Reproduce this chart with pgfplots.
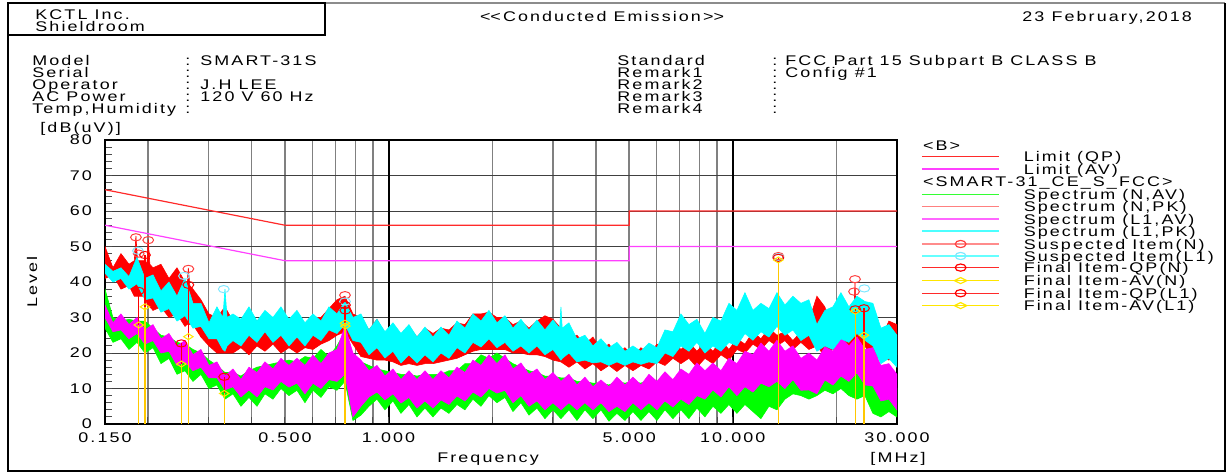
\documentclass[border=0pt]{standalone}
\usepackage{fontspec}
\setmainfont{Liberation Sans}[FakeStretch=1.28, LetterSpace=15]
\usepackage{pgfplots}
\pgfplotsset{compat=1.18}
\usepackage{pgfplotstable}
\usepgfplotslibrary{fillbetween}
\definecolor{specG}{HTML}{00FF00}
\definecolor{specR}{HTML}{FF0000}
\definecolor{specM}{HTML}{FF00FF}
\definecolor{specC}{HTML}{00FFFF}
\definecolor{limQP}{HTML}{FF2A2A}
\definecolor{limAV}{HTML}{FF40FF}
\definecolor{stemY}{HTML}{FFC800}
\definecolor{markY}{HTML}{FFE600}
\definecolor{suspN}{HTML}{FF4040}
\definecolor{suspL}{HTML}{80E8FF}
\newcommand\tf{\fontsize{7}{8.4}\selectfont}

\pgfplotstableread{
f hi lo
0.1500 38 27
0.1582 30 23
0.1669 29 24
0.1761 29.5 21
0.1858 29 23
0.1960 29 20
0.2068 27 21.5
0.2181 25 17
0.2301 24.5 18.5
0.2428 23 14
0.2561 22.5 15
0.2702 21 12
0.2850 20 14
0.3007 18 10
0.3172 16.5 11
0.3347 14.5 7
0.3531 14.5 8.5
0.3725 13.5 5
0.3930 15 7.5
0.4146 16 5
0.4373 16.5 8.5
0.4614 17 7
0.4867 17.5 10
0.5135 18 8
0.5417 17.5 9.5
0.5715 19 6
0.6029 18.5 9.5
0.6361 21 7.5
0.6710 19 10.5
0.7079 22 9.5
0.7468 26 12
0.7879 19 1
0.8312 17.5 2.5
0.8769 16.5 5
0.9251 15.5 7
0.9760 15 4
1.0296 14.5 6.5
1.0862 14 3
1.1459 14 5.5
1.2089 13.5 2
1.2754 14 4.5
1.3455 14 2
1.4194 14 4.5
1.4975 15 3
1.5798 15 5.5
1.6666 17 4
1.7582 17 7
1.8549 19.5 5
1.9569 18.5 8
2.0644 20 6
2.1779 18.5 7.5
2.2976 17 3.5
2.4239 16 6
2.5571 15 2.5
2.6977 14.5 4.5
2.8460 13.5 1.5
3.0024 13.5 4
3.1675 13 1.5
3.3416 13 4
3.5253 12 1
3.7191 12 4
3.9235 11.5 1.5
4.1392 11.5 4
4.3667 11 0.8
4.6067 12 3
4.8600 11.5 1
5.1271 12 3.5
5.4090 11.5 1
5.7063 12.5 3.5
6.0200 12 1
6.3509 13 4
6.7000 12.5 1.5
7.0683 13.5 4
7.4568 13 1.5
7.8667 14 4.5
8.2991 13.5 2
8.7553 14 5
9.2366 13.5 3
9.7443 15 5.5
10.280 14 3
10.845 15 5.5
11.441 14 3.5
12.070 15.5 1.5
12.734 15 5
13.434 17 4
14.172 16.5 7
14.951 17 8.5
15.773 16 8
16.640 15 7
17.554 15.5 8
18.519 16 9.5
19.537 17 8.5
20.611 18 10
21.744 18.5 8
22.939 17 7
24.200 17 8
25.530 13 3
26.933 12 2
28.413 10 3.5
29.975 10 2
}\greentab

\pgfplotstableread{
f hi lo
0.1500 50 41
0.1582 44 42
0.1669 48 38
0.1761 45 39
0.1825 46 36
0.1845 53 36
0.1865 46 36
0.1960 46 36
0.1985 45 34
0.2003 52 33
0.2025 45 33
0.2068 44 32
0.2181 45 33
0.2301 41 30
0.2428 44 31
0.2561 40 27.5
0.2595 39 28
0.2620 44 28
0.2645 39 28
0.2702 38 28
0.2850 35 24.5
0.3007 31 22
0.3172 30 20
0.3347 33 20
0.3531 29 20
0.3725 29 21.5
0.3930 31 19.5
0.4146 29 22
0.4373 31 20.5
0.4614 29.5 22.5
0.4867 32 20
0.5135 29 21.5
0.5417 31 20
0.5715 28 21.5
0.6029 30 21
0.6361 30 22.5
0.6710 32.5 23.5
0.7079 35 25
0.7468 36 26
0.7879 31 22.5
0.8312 30 19
0.8769 26.5 18.5
0.9251 29.5 18
0.9760 25.5 18
1.0296 28 17.5
1.0862 25 16.5
1.1459 27.5 17
1.2089 24.5 16.5
1.2754 27 17
1.3455 25.5 17
1.4194 27 17.5
1.4975 26.5 18
1.5798 28.5 18.5
1.6666 28 19.5
1.7582 31 20.5
1.8549 31 21
1.9569 31.5 21
2.0644 30 21
2.1779 30 21
2.2976 28 20
2.4239 29 20
2.5571 27 19.5
2.6977 29 19.5
2.8460 30.5 19
3.0024 29.5 18
3.1675 27 17.5
3.3416 24.5 16
3.5253 25 17.5
3.7191 22.5 15.5
3.9235 24.5 17
4.1392 21 15
4.3667 22.5 16.5
4.6067 19.5 14.8
4.8600 21.5 16.5
5.1271 19 15
5.4090 21.5 16.5
5.7063 19.5 15.5
6.0200 22.5 17.5
6.3509 20.5 16.5
6.7000 23.5 18.5
7.0683 21 17
7.4568 23 18.5
7.8667 20.5 16
8.2991 22.8 18.5
8.7553 20.5 17
9.2366 23.5 19.5
9.7443 21 18
10.280 24 21
10.845 22.5 20
11.441 26 22.5
12.070 24 21
12.734 27 23.5
13.434 25 22
14.172 26 23.5
14.951 23.5 21
15.773 26 23
16.640 29 21
17.554 36 22
18.519 33 19
19.537 25 21
20.611 24 20
21.744 26 22
22.450 30 21
22.650 40 21
22.800 31 21
22.939 33 21
24.200 26.5 22
25.530 22.5 18
26.933 24 19
28.413 29 18
29.975 28 19.5
}\redtab

\pgfplotstableread{
f hi lo
0.1500 33.5 30
0.1582 28.5 26
0.1669 31 26.5
0.1761 28 24
0.1858 30 25.5
0.1960 26.5 22.5
0.2068 28 23.5
0.2181 24 20
0.2301 25.5 20.5
0.2428 22 16.5
0.2561 23.5 17.5
0.2702 19.5 15
0.2850 21 16
0.3007 16.5 13
0.3172 17.5 13
0.3347 13.5 9.6
0.3531 15.5 10.5
0.3725 12.5 7.6
0.3930 16 9.6
0.4146 14.5 7.6
0.4373 17.5 10.5
0.4614 15.5 9.6
0.4867 18.5 12
0.5135 16.5 10.4
0.5417 18.5 11.5
0.5715 16.5 8.5
0.6029 19.4 11.5
0.6361 17 10
0.6710 20 12.5
0.7079 21 12
0.7468 27.5 14
0.7879 20 2
0.8312 18 5
0.8769 15 7.6
0.9251 16.5 9
0.9760 13.5 6.8
1.0296 15.5 8.5
1.0862 12.5 5.9
1.1459 15 7.5
1.2089 12.5 4.5
1.2754 15 6.5
1.3455 12.5 4.5
1.4194 15 6.8
1.4975 13 5.5
1.5798 16 7.9
1.6666 14.5 6.5
1.7582 18 9
1.8549 16.5 7.6
1.9569 19.5 10
2.0644 17 8.7
2.1779 19.5 9.5
2.2976 15.5 6
2.4239 17.2 8
2.5571 14 5
2.6977 15.5 6.5
2.8460 12.5 4
3.0024 14.5 6
3.1675 12 4
3.3416 14 6
3.5253 11 4
3.7191 13.2 6
3.9235 10.5 4
4.1392 12.4 6
4.3667 10.5 3.5
4.6067 13.2 5
4.8600 11 3.5
5.1271 13.2 6
5.4090 11 4
5.7063 14 6
6.0200 12 4
6.3509 14.7 6.5
6.7000 12.5 4.8
7.0683 15.5 7
7.4568 14 5.5
7.8667 17.2 8
8.2991 15 7
8.7553 17.2 9.6
9.2366 15 7.6
9.7443 18.5 10.5
10.280 17 8
10.845 20.5 10.5
11.441 19.5 9
12.070 22.8 11.5
12.734 20.5 10.5
13.434 23.6 12
14.172 20.5 10
14.951 22 12.5
15.773 18.5 9.5
16.640 20 9.6
17.554 18 8.5
18.519 21.7 12.4
19.537 20.5 11
20.611 24.5 13.5
21.744 22 12
22.939 24.5 14.4
24.200 21 11
25.530 21.5 10.7
26.933 16.5 6.5
28.413 17 7
29.975 14 4
}\magtab

\pgfplotstableread{
f hi lo
0.1500 45 42.5
0.1582 43 40
0.1669 44 41
0.1761 41.5 38
0.1858 47 39.5
0.1960 41 35
0.2068 42 35.5
0.2181 37.5 31.5
0.2301 40 32.5
0.2428 36 29
0.2561 41 30.5
0.2702 34 27
0.2850 34 27.5
0.3007 28.5 24
0.3172 33 24
0.3300 30 21
0.3347 38 20.5
0.3395 30 22
0.3531 31 23.5
0.3725 29.5 22
0.3930 33 25
0.4146 29 23
0.4373 32 26
0.4614 30 23
0.4867 33 25
0.5135 29.5 22
0.5417 32 24.5
0.5715 28.5 22
0.6029 31 25
0.6361 29 23.5
0.6710 33 26.5
0.7079 31 25.5
0.7468 34.5 28
0.7879 30 23.5
0.8312 31 23
0.8769 26.5 19.5
0.9251 29.5 21.5
0.9760 26 18.6
1.0296 28.5 20.5
1.0862 25.5 17.2
1.1459 28 19.5
1.2089 24.5 17.2
1.2754 27.3 19.5
1.3455 24.5 17.5
1.4194 27.3 20
1.4975 25 18.5
1.5798 29 21.5
1.6666 27 20
1.7582 31 23
1.8549 29 21.7
1.9569 32 24
2.0644 28.5 21.5
2.1779 30.5 23
2.2976 27 20.5
2.4239 29.5 22
2.5571 26.5 20
2.6977 29.3 22
2.8460 26.5 19.5
3.0024 29.3 21
3.1400 27 18.5
3.1675 33 18
3.1950 27 18.5
3.3416 28.5 20
3.5253 24 17.5
3.7191 25 18
3.9235 22 17.2
4.1392 24 17.5
4.3667 21.5 16.5
4.6067 23 17.5
4.8600 20.5 16.5
5.1271 22 17.5
5.4090 20.5 16.8
5.7063 22.8 17.5
6.0200 21.5 17
6.3509 26.5 20
6.7000 26 19
7.0683 31 22
7.4568 28 20.5
7.8667 29.5 23
8.2991 25.5 20
8.7553 30 22
9.2366 29 20.5
9.7443 34 23
10.280 32 22
10.845 37 25.5
11.441 32 23.6
12.070 34 26
12.734 32.5 24.5
13.434 37 27.5
14.172 33.5 25
14.951 36 26.5
15.773 34 23.5
16.640 35 25
17.554 28 20.5
18.519 32 22
19.537 33 21
20.611 37 24
21.744 33 23
22.939 36 25.5
24.200 34.5 23.6
25.530 34 22
26.933 27 17
28.413 28 18.5
29.975 25 16
}\cyantab

\begin{document}
\begin{tikzpicture}[x=1pt,y=1pt]
\begin{axis}[
  at={(52.5pt,24.5pt)}, anchor=south west,
  scale only axis, width=396pt, height=142pt,
  xmode=log, xmin=0.15, xmax=30, ymin=0, ymax=80,
  xtick={0.15,0.5,1,5,10,30},
  xticklabels={0.150,0.500,1.000,5.000,10.000,30.000},
  minor xtick={0.2,0.3,0.4,0.5,0.6,0.7,0.8,0.9,2,3,4,5,6,7,8,9,20},
  xminorgrids=true, xmajorgrids=false,
  extra x ticks={1,10}, extra x tick labels={},
  extra x tick style={grid=major, major grid style={black, line width=1pt}},
  ytick={0,10,...,80}, ymajorgrids=true,
  minor y tick num=4, ytick pos=left, xtick pos=bottom,
  tick align=inside, major tick length=3.5pt, minor tick length=3.5pt,
  every tick/.style={black!70, line width=0.5pt},
  major grid style={black!75, line width=0.5pt},
  minor grid style={black!50, line width=0.7pt},
  axis line style={black, line width=0.8pt},
  /pgf/number format/assume math mode=true,
  ticklabel style={font=\tf},
  yticklabel style={xshift=-3pt},
  xticklabel style={yshift=-1pt},
]
% Spectrum (N,AV)
\addplot[draw=none, name path=gh] table[x=f,y=hi]{\greentab};
\addplot[draw=none, name path=gl] table[x=f,y=lo]{\greentab};
\addplot[fill=specG, draw=specG, line width=0.3pt] fill between[of=gh and gl];
% Spectrum (N,PK)
\addplot[draw=none, name path=rh] table[x=f,y=hi]{\redtab};
\addplot[draw=none, name path=rl] table[x=f,y=lo]{\redtab};
\addplot[fill=specR, draw=specR, line width=0.3pt] fill between[of=rh and rl];
% Spectrum (L1,AV)
\addplot[draw=none, name path=mh] table[x=f,y=hi]{\magtab};
\addplot[draw=none, name path=ml] table[x=f,y=lo]{\magtab};
\addplot[fill=specM, draw=specM, line width=0.3pt] fill between[of=mh and ml];
% Spectrum (L1,PK)
\addplot[draw=none, name path=ch] table[x=f,y=hi]{\cyantab};
\addplot[draw=none, name path=cl] table[x=f,y=lo]{\cyantab};
\addplot[fill=specC, draw=specC, line width=0.3pt] fill between[of=ch and cl];
% Limits
\addplot[limQP, line width=0.6pt] coordinates {(0.15,66) (0.5,56) (5,56) (5,60) (30,60)};
\addplot[limAV, line width=0.6pt] coordinates {(0.15,56) (0.5,46) (5,46) (5,50) (30,50)};
% Final item stems
\addplot[ycomb, red, line width=0.6pt] coordinates {(0.188,37.5) (0.196,47.6) (0.250,22.7) (0.262,39.2) (0.333,13.3) (0.747,33.5) (0.749,32.0) (13.56,46.8) (22.7,32.3) (24.05,32.6)};
\addplot[ycomb, stemY, line width=0.7pt] coordinates {(0.188,27.9) (0.196,33.0) (0.250,16.9) (0.262,24.6) (0.333,8.6) (0.747,28.4) (0.749,27.6) (13.56,46.2) (22.7,31.8) (24.05,25.0)};
% Suspected items
\addplot[only marks, mark=o, suspN, mark size=1.8pt, mark options={xscale=1.5, line width=0.5pt}] coordinates {(0.1845,52.6) (0.2003,51.8) (0.188,48.0) (0.262,43.7) (0.747,36.3) (13.56,47.3) (22.65,40.8) (22.5,37.3)};
\addplot[only marks, mark=o, suspL, mark size=1.8pt, mark options={xscale=1.5, line width=0.5pt}] coordinates {(0.187,48.8) (0.2544,41.7) (0.332,38.0) (0.747,34.5) (13.56,47.0) (24.1,38.2)};
% Final QP / AV
\addplot[only marks, mark=o, red, mark size=1.8pt, mark options={xscale=1.5, line width=0.5pt}] coordinates {(0.188,37.5) (0.196,47.6) (0.250,22.7) (0.262,39.2) (0.333,13.3) (0.747,33.5) (0.749,32.0) (13.56,46.8) (22.7,32.3) (24.05,32.6)};
\addplot[only marks, mark=diamond, markY, mark size=1.5pt, mark options={xscale=2.1, line width=0.5pt}] coordinates {(0.188,27.9) (0.196,33.0) (0.250,16.9) (0.262,24.6) (0.333,8.6) (0.747,28.4) (0.749,27.6) (13.56,46.2) (22.7,31.8) (24.05,25.0)};
\end{axis}
% frame
\draw[black!45, line width=0.8pt] (4,235) -- (612.5,235);
\draw[black, line width=0.6pt] (4,235) -- (4,1) -- (612.5,1) -- (612.5,235);
\draw[black, line width=0.6pt] (4,219) rectangle (162.5,235);
% header (baselines = row centre - 2.5pt)
\begin{scope}[every node/.style={font=\tf, inner sep=0pt, anchor=base west}]
\node at (17.5,227) {KCTL Inc.};
\node at (17.5,221) {Shieldroom};
\node[anchor=base] at (301,226) {<\kern0pt<Conducted Emission>\kern0pt>};
\node at (511,226) {23 February,2018};
\node at (16,204) {Model};
\node at (16,198) {Serial};
\node at (16,192) {Operator};
\node at (16,186) {AC Power};
\node at (16,180) {Temp,Humidity};
\foreach \yy in {204,198,192,186,180} \node at (92.5,\yy) {:};
\node at (100,204) {SMART-31S};
\node at (100,192) {J.H LEE};
\node at (100,186) {120 V 60 Hz};
\node at (308.5,204) {Standard};
\node at (308.5,198) {Remark1};
\node at (308.5,192) {Remark2};
\node at (308.5,186) {Remark3};
\node at (308.5,180) {Remark4};
\foreach \yy in {204,198,192,186,180} \node at (386,\yy) {:};
\node at (392.5,204) {FCC Part 15 Subpart B CLASS B};
\node at (392.5,198) {Config \#1};
\node at (20,170.5) {[dB(uV)]};
\node[anchor=center, rotate=90] at (16,95.5) {Level};
\node[anchor=base] at (244,5.5) {Frequency};
\node[anchor=base] at (449,5.5) {[MHz]};
% legend
\node at (461.3,161.5) {<B>};
\node at (461.3,143.2) {<SMART-31\_CE\_S\_FCC>};
\node at (511.7,155.7) {Limit (QP)};
\node at (511.7,149.5) {Limit (AV)};
\node at (511.7,136.9) {Spectrum (N,AV)};
\node at (511.7,130.7) {Spectrum (N,PK)};
\node at (511.7,124.5) {Spectrum (L1,AV)};
\node at (511.7,118.5) {Spectrum (L1,PK)};
\node at (511.7,112) {Suspected Item(N)};
\node at (511.7,106) {Suspected Item(L1)};
\node at (511.7,100.2) {Final Item-QP(N)};
\node at (511.7,93.7) {Final Item-AV(N)};
\node at (511.7,87.4) {Final Item-QP(L1)};
\node at (511.7,81.2) {Final Item-AV(L1)};
\end{scope}
\begin{scope}[line width=0.6pt]
\draw[limQP] (460.9,158.2) -- (499.7,158.2);
\draw[limAV] (460.9,152) -- (499.7,152);
\draw[specG!80!white] (460.9,139.4) -- (499.7,139.4);
\draw[red!50!white] (460.9,133.2) -- (499.7,133.2);
\draw[specM!60!white] (460.9,127) -- (499.7,127);
\draw[specC!70!white] (460.9,121) -- (499.7,121);
\draw[red!45!white] (460.9,114.5) -- (499.7,114.5);
\draw[suspN] (480.3,114.5) ellipse [x radius=2.7pt, y radius=1.8pt];
\draw[specC!60!white] (460.9,108.5) -- (499.7,108.5);
\draw[suspL] (480.3,108.5) ellipse [x radius=2.7pt, y radius=1.8pt];
\draw[limQP] (460.9,102.7) -- (499.7,102.7);
\draw[red] (480.3,102.7) ellipse [x radius=2.7pt, y radius=1.8pt];
\draw[markY] (460.9,96.2) -- (499.7,96.2);
\draw[markY] (477.2,96.2) -- (480.3,97.7) -- (483.4,96.2) -- (480.3,94.7) -- cycle;
\draw[limQP] (460.9,89.9) -- (499.7,89.9);
\draw[red] (480.3,89.9) ellipse [x radius=2.7pt, y radius=1.8pt];
\draw[markY] (460.9,83.7) -- (499.7,83.7);
\draw[markY] (477.2,83.7) -- (480.3,85.2) -- (483.4,83.7) -- (480.3,82.2) -- cycle;
\end{scope}
\pgfresetboundingbox
\path[use as bounding box] (0,0) rectangle (614.5,236.5);
\end{tikzpicture}
\end{document}
